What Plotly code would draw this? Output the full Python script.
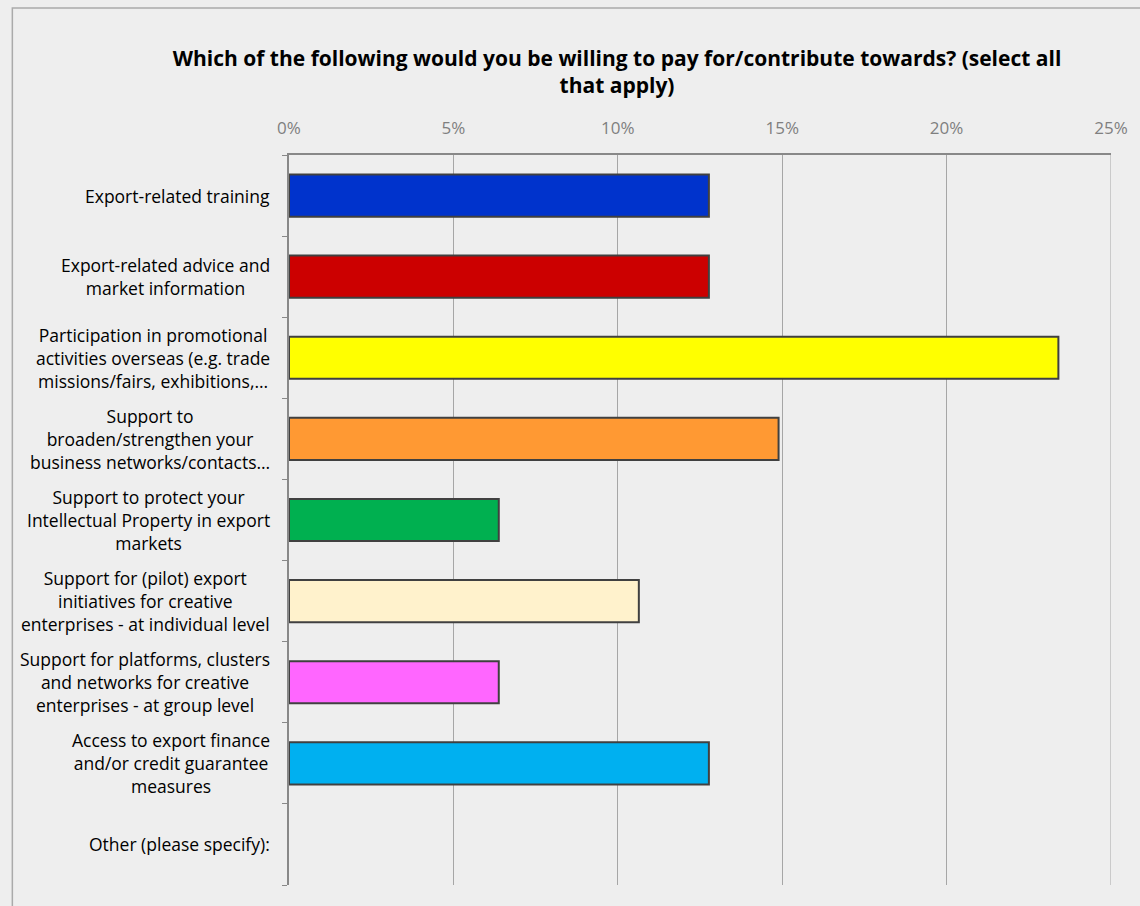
import plotly.graph_objects as go

categories = [
    "Export-related training",
    "Export-related advice and<br>market information",
    "Participation in promotional<br>activities overseas (e.g. trade<br>missions/fairs, exhibitions,…",
    "Support to<br>broaden/strengthen your<br>business networks/contacts…",
    "Support to protect your<br>Intellectual Property in export<br>markets",
    "Support for (pilot) export<br>initiatives for creative<br>enterprises - at individual level",
    "Support for platforms, clusters<br>and networks for creative<br>enterprises - at group level",
    "Access to export finance<br>and/or credit guarantee<br>measures",
    "Other (please specify):",
]
shares = [0.1277, 0.1277, 0.2340, 0.1489, 0.0638, 0.1064, 0.0638, 0.1277, 0.0]
bar_colors = ["#0033CC", "#CC0000", "#FFFF00", "#FF9933", "#00B050",
              "#FFF2CC", "#FF66FF", "#00B0F0", "#FFFFFF"]

title_text = ("Which of the following would you be willing to pay for/contribute towards? (select all"
              "<br>that apply)")

W, H = 1140, 906
L, R, T, B = 289, 25, 155, 21
FONT = "Open Sans"

ids = list(range(len(categories)))
# empty categories get no outline
outline_widths = [2 if v > 0 else 0 for v in shares]

fig = go.Figure(
    go.Bar(
        x=shares,
        y=ids,
        orientation="h",
        marker=dict(color=bar_colors, line=dict(color="#404040", width=outline_widths)),
        hoverinfo="skip",
    )
)

fig.update_layout(
    width=W,
    height=H,
    margin=dict(l=L, r=R, t=T, b=B, pad=0),
    paper_bgcolor="#EEEEEE",
    plot_bgcolor="#EEEEEE",
    showlegend=False,
    bargap=0.48,
    title=dict(
        text=title_text,
        font=dict(family=FONT, size=21, color="#000000", weight="bold"),
        x=617 / W,
        xanchor="center",
        xref="container",
        y=1 - 66 / H,
        yanchor="top",
        yref="container",
    ),
    xaxis=dict(
        side="top",
        range=[0, 0.25],
        dtick=0.05,
        tick0=0,
        tickformat=".0%",
        showgrid=True,
        gridcolor="#A6A6A6",
        gridwidth=1,
        showline=True,
        linecolor="#888888",
        linewidth=2,
        zeroline=False,
        ticks="",
        ticklabelstandoff=12,
        tickfont=dict(family=FONT, size=17, color="#7F7F7F"),
        fixedrange=True,
    ),
    yaxis=dict(
        type="category",
        tickmode="array",
        tickvals=ids,
        ticktext=[""] * len(ids),
        autorange="reversed",
        showgrid=False,
        showline=True,
        linecolor="#888888",
        linewidth=2,
        zeroline=False,
        ticks="outside",
        tickson="boundaries",
        ticklen=5,
        tickcolor="#888888",
        tickwidth=1,
        showticklabels=False,
        fixedrange=True,
    ),
)

# gridline at the end of the value range
fig.add_shape(
    type="line",
    xref="x",
    yref="paper",
    x0=0.25,
    x1=0.25,
    y0=0,
    y1=1,
    line=dict(color="#A6A6A6", width=1),
    layer="below",
)

# category labels, centred line by line, right of them the value axis
for i, label in enumerate(categories):
    fig.add_annotation(
        x=0,
        xref="paper",
        y=i,
        yref="y",
        text=label,
        showarrow=False,
        xanchor="right",
        yanchor="middle",
        align="center",
        xshift=-17,
        font=dict(family=FONT, size=17.5, color="#000000"),
    )

# chart frame
fig.add_shape(
    type="rect",
    xref="paper",
    yref="paper",
    x0=(11 - L) / (W - L - R),
    x1=(W + 10 - L) / (W - L - R),
    y0=-(B + 10) / (H - T - B),
    y1=1 + (T - 8) / (H - T - B),
    line=dict(color="#AAAAAA", width=1.5),
    fillcolor="rgba(0,0,0,0)",
    layer="below",
)

fig.write_html("out.html")
